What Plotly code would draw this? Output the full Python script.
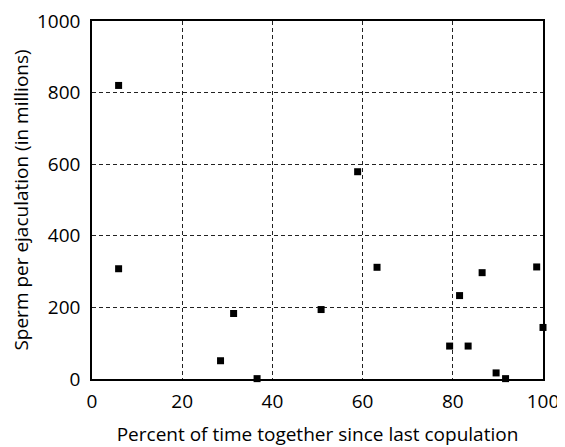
import plotly.graph_objects as go

pct_time_together = [5.9, 5.9, 28.5, 31.4, 36.6, 50.8, 58.9, 63.2, 79.3, 81.5, 83.4, 86.5, 89.6, 91.7, 98.6, 100]
sperm_millions = [820, 308, 51, 183, 1, 194, 579, 312, 92, 233, 92, 297, 17, 1, 313, 144]

x_ticks = [0, 20, 40, 60, 80, 100]
y_ticks = [0, 200, 400, 600, 800, 1000]

font = "Open Sans, Lato, sans-serif"

fig = go.Figure(go.Scatter(
    x=pct_time_together, y=sperm_millions, mode="markers",
    marker=dict(symbol="square", size=7, color="black", line=dict(width=0)),
    cliponaxis=False,
))

# page body has an 8px default margin, so the figure is 8px smaller
fig.update_layout(
    width=557, height=439,
    margin=dict(l=84, r=22, t=13, b=68),
    paper_bgcolor="white", plot_bgcolor="white",
    showlegend=False,
    font=dict(family=font, size=19, color="black"),
)
fig.update_xaxes(
    range=[0, 100], tickvals=x_ticks, ticks="", ticklabelstandoff=4,
    automargin=False, tickfont=dict(size=19), ticklabeloverflow="allow",
    showgrid=True, gridcolor="#222", griddash="4px,3px", gridwidth=1,
    showline=True, linecolor="black", linewidth=1.5, mirror=True,
    zeroline=False,
    title=dict(text="Percent of time together since last copulation", font=dict(size=19), standoff=16),
)
fig.update_yaxes(
    range=[0, 1000], tickvals=y_ticks, ticks="", ticklabelstandoff=6,
    automargin=False, tickfont=dict(size=19), ticklabeloverflow="allow",
    showgrid=True, gridcolor="#222", griddash="4px,3px", gridwidth=1,
    showline=True, linecolor="black", linewidth=1.5, mirror=True,
    zeroline=False,
    title=dict(text="Sperm per ejaculation (in millions)", font=dict(size=19), standoff=3),
)

fig.write_html("out.html")
